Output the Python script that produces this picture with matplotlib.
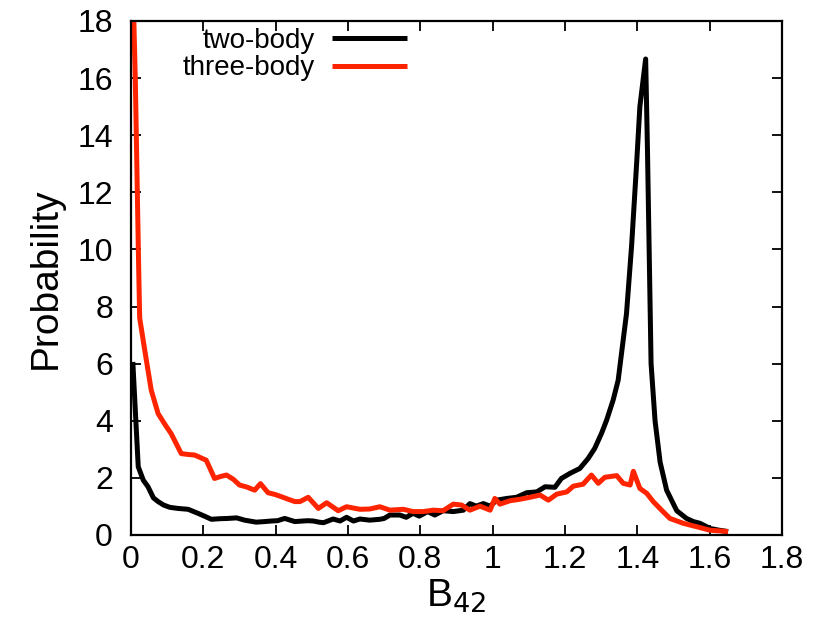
import matplotlib
matplotlib.use("Agg")
import matplotlib.pyplot as plt

plt.rcParams['font.family'] = ['Liberation Sans', 'DejaVu Sans']

# two-body series
x_two = [0.005, 0.02, 0.034, 0.047, 0.062, 0.075, 0.09, 0.107, 0.13, 0.158, 0.185, 0.205,
         0.222, 0.245, 0.268, 0.292, 0.314, 0.346, 0.37, 0.388, 0.405, 0.425, 0.453, 0.475,
         0.489, 0.504, 0.52, 0.532, 0.559, 0.578, 0.596, 0.615, 0.633, 0.66, 0.688, 0.70,
         0.716, 0.743, 0.761, 0.78, 0.797, 0.82, 0.84, 0.863, 0.891, 0.919, 0.937, 0.955,
         0.974, 0.993, 1.011, 1.039, 1.066, 1.094, 1.122, 1.145, 1.172, 1.19, 1.214, 1.241,
         1.264, 1.282, 1.301, 1.315, 1.333, 1.347, 1.37, 1.384, 1.398, 1.407, 1.423, 1.428,
         1.438, 1.449, 1.463, 1.481, 1.509, 1.536, 1.555, 1.573, 1.601, 1.625, 1.651]
p_two = [6.06, 2.39, 1.92, 1.69, 1.3, 1.17, 1.05, 0.97, 0.93, 0.90, 0.76, 0.65,
         0.55, 0.57, 0.58, 0.6, 0.52, 0.45, 0.47, 0.49, 0.5, 0.58, 0.47, 0.49,
         0.5, 0.49, 0.45, 0.43, 0.56, 0.49, 0.62, 0.49, 0.56, 0.52, 0.55, 0.58,
         0.70, 0.70, 0.62, 0.76, 0.66, 0.82, 0.70, 0.85, 0.82, 0.87, 1.1, 1.01,
         1.1, 1.01, 1.22, 1.28, 1.32, 1.48, 1.51, 1.69, 1.67, 1.98, 2.16, 2.33,
         2.68, 3.03, 3.56, 4.02, 4.72, 5.42, 7.75, 10.1, 13.0, 15.0, 16.67, 13.5,
         6.0, 4.0, 2.55, 1.57, 0.85, 0.58, 0.47, 0.41, 0.23, 0.17, 0.12]

# three-body series
x_three = [0.004, 0.012, 0.017, 0.021, 0.024, 0.038, 0.056, 0.075, 0.095, 0.111, 0.125,
           0.139, 0.158, 0.176, 0.208, 0.231, 0.248, 0.264, 0.283, 0.30, 0.32, 0.342,
           0.358, 0.379, 0.398, 0.416, 0.435, 0.453, 0.467, 0.49, 0.518, 0.541, 0.573,
           0.596, 0.633, 0.66, 0.688, 0.716, 0.753, 0.78, 0.808, 0.836, 0.863, 0.891,
           0.914, 0.937, 0.965, 0.993, 1.006, 1.02, 1.048, 1.075, 1.103, 1.131, 1.154,
           1.177, 1.205, 1.223, 1.25, 1.273, 1.292, 1.31, 1.343, 1.361, 1.38, 1.389,
           1.407, 1.426, 1.444, 1.467, 1.49, 1.527, 1.564, 1.6, 1.651]
p_three = [20.0, 15.9, 12.35, 9.5, 7.6, 6.47, 5.07, 4.25, 3.85, 3.55, 3.2,
           2.85, 2.82, 2.8, 2.62, 1.98, 2.05, 2.1, 1.95, 1.75, 1.68, 1.57,
           1.8, 1.48, 1.42, 1.34, 1.25, 1.17, 1.17, 1.32, 0.93, 1.13, 0.85,
           0.99, 0.90, 0.91, 0.99, 0.87, 0.90, 0.82, 0.82, 0.87, 0.85, 1.08,
           1.05, 0.87, 1.01, 0.87, 1.28, 1.08, 1.2, 1.25, 1.32, 1.4, 1.22,
           1.43, 1.51, 1.71, 1.78, 2.10, 1.81, 2.02, 2.08, 1.81, 1.75, 2.23,
           1.63, 1.46, 1.17, 0.87, 0.58, 0.41, 0.29, 0.17, 0.12]

labels = ["two-body", "three-body"]
x_ticks = [0, 0.2, 0.4, 0.6, 0.8, 1.0, 1.2, 1.4, 1.6, 1.8]
x_ticklabels = ["0", "0.2", "0.4", "0.6", "0.8", "1", "1.2", "1.4", "1.6", "1.8"]
y_ticks = [0, 2, 4, 6, 8, 10, 12, 14, 16, 18]

fig = plt.figure(figsize=(8.22, 6.27), dpi=100)
ax = fig.add_axes([131/822, 1 - 535/627, (782 - 131)/822, (535 - 21)/627])

ax.plot(x_two, p_two, color='black', lw=3.6, label=labels[0],
        solid_joinstyle='round', solid_capstyle='butt')
ax.plot(x_three, p_three, color='#ff2400', lw=3.6, label=labels[1],
        solid_joinstyle='round', solid_capstyle='butt')

ax.set_xlim(0, 1.8)
ax.set_ylim(0, 18)
ax.set_xticks(x_ticks)
ax.set_xticklabels(x_ticklabels)
ax.set_yticks(y_ticks)
ax.tick_params(direction='in', length=7, width=1.3, top=True, right=True,
               labelsize=23, colors='black')
ax.tick_params(axis='y', pad=13)
ax.tick_params(axis='x', pad=7)
for s in ax.spines.values():
    s.set_linewidth(1.6)

ax.set_ylabel("Probability", fontsize=28, labelpad=10)
ax.set_xlabel("B$_{42}$", fontsize=28, labelpad=2)

leg = ax.legend(loc='upper right', bbox_to_anchor=(407/822, 1 - 28/627),
                bbox_transform=fig.transFigure, frameon=False, markerfirst=False,
                fontsize=20, handlelength=2.7, handletextpad=0.6,
                labelspacing=0.05, borderpad=0, borderaxespad=0)
for t in leg.get_texts():
    t.set_ha('right')

fig.savefig("out.png", dpi=100)
